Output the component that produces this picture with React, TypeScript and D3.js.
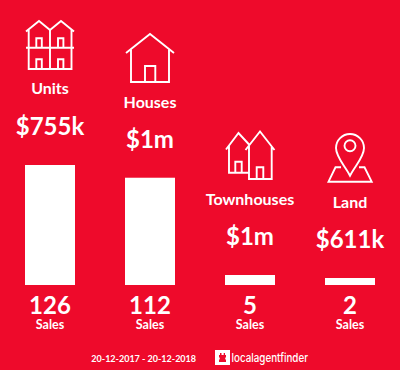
import React from "react";
import * as d3 from "d3";

const categories = ["Units", "Houses", "Townhouses", "Land"];
const prices = ["$755k", "$1m", "$1m", "$611k"];
const sales = [126, 112, 5, 2];
const footerDates = "20-12-2017 - 20-12-2018";
const brand = "localagentfinder";
// vertical position of each column's labels
const labelBaselines = [94, 108, 205, 208];
const priceBaselines = [135, 148, 245, 248];

const BG = "#ee0a2b";
const x = d3.scalePoint<string>().domain(categories).range([50, 350]);
const h = d3.scaleLinear().domain([2, 5, 126]).range([7, 10, 120]);
const BASE = 285;
const BAR_W = 50;

const iconPaths: string[] = [
  "M26 31.5L39 21L50 30L61 21L74 31.5M28.7 29.5V69H71.5V29.5M50 30V69M26 47.7H74M36.3 47.7V38.3H41.8V47.7M58 47.7V38.3H63.4V47.7M36.3 69V59.3H41.8V69M58 69V59.3H63.4V69",
  "M126 53L150 34L174 53M131 49.5V82H169V49.5M145 82V66H155.3V82",
  "M226 149.5L238.5 133L249.5 145M245.5 150L260 131.5L274.5 150M229 146V172.7H249M249 145.5V179H271.7V146M235.3 172.7V161.7H241.7V172.7M256.7 179V167.3H263.3V179",
  "M350 175.7C345 166 336 157 336 148A14 14 0 0 1 364 148C364 157 355 166 350 175.7ZM341 167.3H335.5L328.5 181.7H371.7L364.5 167.3H359",
];

export default function App() {
  return (
    <svg width={400} height={370} style={{ position: "absolute", left: 0, top: 0, display: "block" }} fontFamily="Lato" fill="#fff" textAnchor="middle">
      <rect width={400} height={370} fill={BG} />
      {categories.map((c, i) => {
        const cx = x(c)!;
        return (
          <g key={c}>
            <path d={iconPaths[i]} fill="none" stroke="#fff" strokeWidth={1.9} />
            {i === 3 && <circle cx={350} cy={145.7} r={5.5} fill="none" stroke="#fff" strokeWidth={1.9} />}
            <text x={cx} y={labelBaselines[i]} fontSize={16} fontWeight={700}>{c}</text>
            <text x={cx} y={priceBaselines[i]} fontSize={24} fontWeight={700}>{prices[i]}</text>
            <rect x={cx - BAR_W / 2} y={BASE - h(sales[i])} width={BAR_W} height={h(sales[i])} fill="#fff" />
            <text x={cx} y={314} fontSize={24} fontWeight={700}>{sales[i]}</text>
            <text x={cx} y={329} fontSize={12.5} fontWeight={700}>Sales</text>
          </g>
        );
      })}
      <text x={143.7} y={361.5} fontSize={9} fontWeight={700}>{footerDates}</text>
      <rect x={215} y={350} width={15} height={15} fill="#fff" />
      <path d="M219 353V355H220V353H221.5V355H223.7V353H225V355H226V353V357.5H225.2V359.5H226V362H219V359.5H219.8V357.5H219Z" fill={BG} />
      <text x={231.5} y={362} fontSize={12.2} fontFamily="Inter" fontWeight={500} textAnchor="start" textLength={76.5} lengthAdjust="spacingAndGlyphs">{brand}</text>
    </svg>
  );
}
